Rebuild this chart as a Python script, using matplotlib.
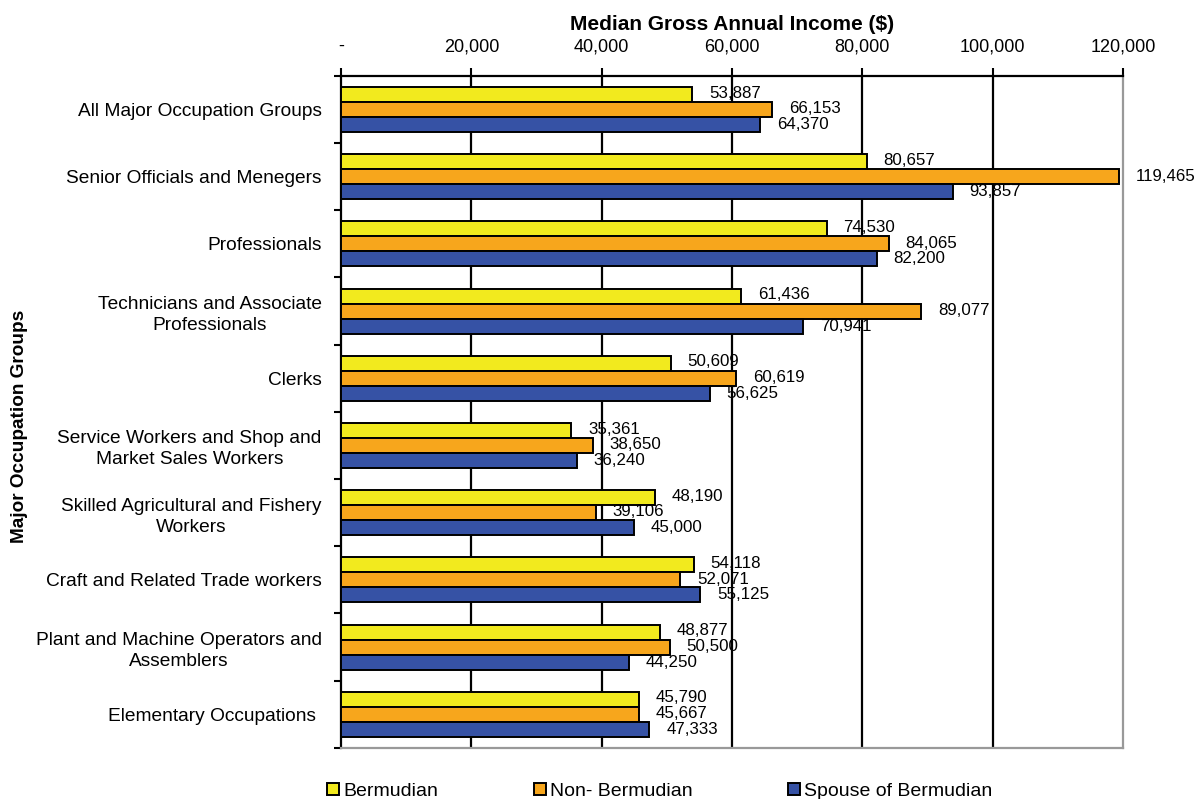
import numpy as np
import matplotlib
matplotlib.use('Agg')
from matplotlib import pyplot as plt
from matplotlib.ticker import FuncFormatter

plt.rcParams['font.family'] = ['Liberation Sans', 'DejaVu Sans']

groups = ['All Major Occupation Groups',
          'Senior Officials and Menegers',
          'Professionals',
          'Technicians and Associate\nProfessionals',
          'Clerks',
          'Service Workers and Shop and\nMarket Sales Workers',
          'Skilled Agricultural and Fishery\nWorkers',
          'Craft and Related Trade workers',
          'Plant and Machine Operators and\nAssemblers',
          'Elementary Occupations ']
bermudian = [53887, 80657, 74530, 61436, 50609, 35361, 48190, 54118, 48877, 45790]
non_bermudian = [66153, 119465, 84065, 89077, 60619, 38650, 39106, 52071, 50500, 45667]
spouse = [64370, 93857, 82200, 70941, 56625, 36240, 45000, 55125, 44250, 47333]
series_names = ['Bermudian', 'Non- Bermudian', 'Spouse of Bermudian']
colors = ['#F2EA1E', '#F7A61C', '#3652A5']

fig = plt.figure(figsize=(12.01, 7.99), dpi=100)
ax = fig.add_axes([0.284, 0.064, 0.651, 0.841])

y = np.arange(len(groups))
h = 0.223
series = [bermudian, non_bermudian, spouse]
for i, (vals, name, c) in enumerate(zip(series, series_names, colors)):
    pos = y + (i - 1) * h
    ax.barh(pos, vals, height=h, color=c, edgecolor='black', linewidth=1.4,
            label=name, zorder=3)
    for p, v in zip(pos, vals):
        ax.annotate('{:,}'.format(v), (v, p), xytext=(12, 1 - i * 0.5),
                    textcoords='offset points', va='center', ha='left',
                    fontsize=12.2, zorder=4)

ax.set_ylim(len(groups) - 0.5, -0.5)
ax.set_xlim(0, 120000)
ax.set_xticks(np.arange(0, 120001, 20000))
ax.xaxis.set_major_formatter(FuncFormatter(lambda v, p: '-' if v == 0 else '{:,.0f}'.format(v)))
ax.xaxis.tick_top()
ax.xaxis.set_label_position('top')
ax.tick_params(axis='x', direction='out', length=6, width=1.5, labelsize=13, pad=9)
ax.set_xlabel('Median Gross Annual Income ($)', fontsize=15, fontweight='bold', labelpad=6)

ax.set_yticks(y)
ax.set_yticklabels(groups, fontsize=13.8, multialignment='center', linespacing=1.3)
ax.set_yticks(np.arange(len(groups) + 1) - 0.5, minor=True)
ax.tick_params(axis='y', which='major', length=0, pad=14)
ax.tick_params(axis='y', which='minor', direction='out', length=5, width=1.5)
ax.set_ylabel('Major Occupation Groups', fontsize=13.7, fontweight='bold')
ax.yaxis.set_label_coords(-0.400, 0.478)

for xv in np.arange(20000, 100001, 20000):
    ax.axvline(xv, color='black', linewidth=1.6, zorder=1)

ax.spines['top'].set_linewidth(1.6)
ax.spines['left'].set_linewidth(1.6)
ax.spines['right'].set_color('#999999')
ax.spines['bottom'].set_color('#999999')
ax.spines['right'].set_linewidth(1.6)
ax.spines['bottom'].set_linewidth(1.6)

fig.legend(loc='lower left', bbox_to_anchor=(0.258, -0.023), ncol=3, frameon=False,
           fontsize=14, handlelength=0.6, handleheight=0.6, handletextpad=0.2,
           columnspacing=4.95)

fig.savefig('out.png', dpi=100)
